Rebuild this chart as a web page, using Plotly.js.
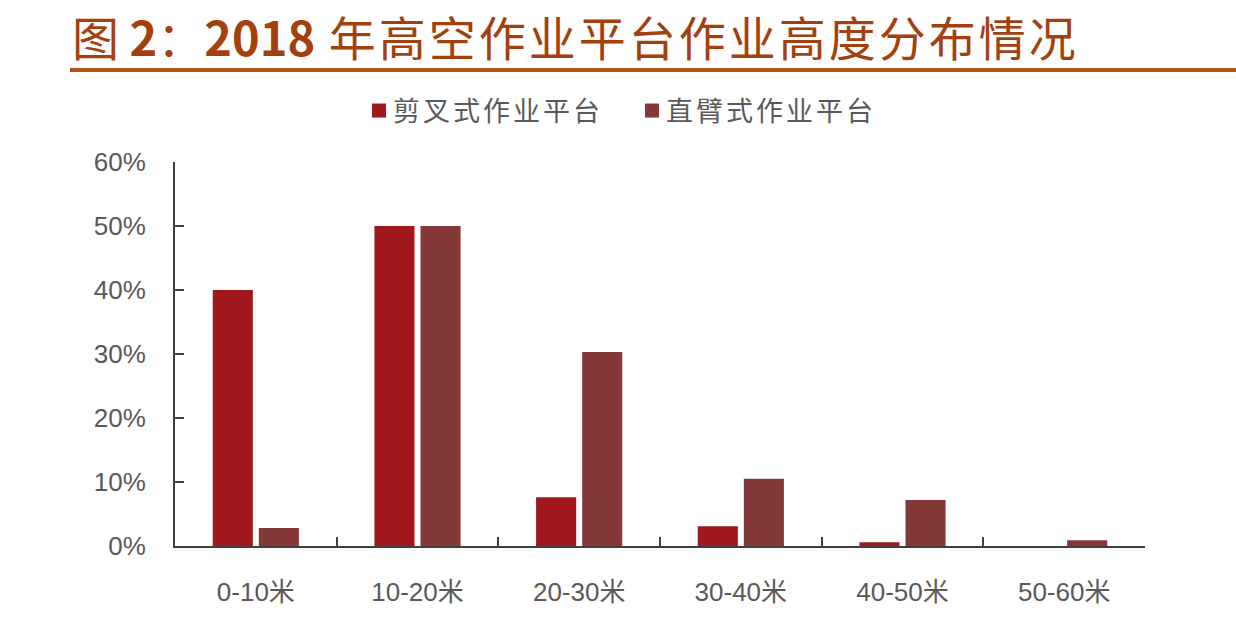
<!DOCTYPE html>
<html>
<head>
<meta charset="utf-8">
<script src="https://cdn.plot.ly/plotly-3.0.1.min.js"></script>
<style>
html,body{margin:0;padding:0;background:#fff;}
#chart{width:1236px;height:644px;}
#chart .legendtext{letter-spacing:3px;}
</style>
</head>
<body>
<div id="chart"></div>
<script>
const categories = ['0-10米', '10-20米', '20-30米', '30-40米', '40-50米', '50-60米'];
const seriesNames = ['剪叉式作业平台', '直臂式作业平台'];
const scissorValues = [0.40, 0.50, 0.076, 0.031, 0.006, 0];
const boomValues = [0.028, 0.50, 0.303, 0.105, 0.072, 0.009];
const yTickValues = [0, 0.1, 0.2, 0.3, 0.4, 0.5, 0.6];
const titleParts = ['图 ', '2', '：', '2018', ' 年高空作业平台作业高度分布情况'];

const baseFont = 'Liberation Sans, Arial, Noto Sans CJK SC, sans-serif';
const sp = function (s, ls) { return '<span style="letter-spacing:' + ls + 'px">' + s + '</span>'; };
const traces = [
  {type: 'bar', name: seriesNames[0], x: categories, y: scissorValues, marker: {color: '#A0181B'}},
  {type: 'bar', name: seriesNames[1], x: categories, y: boomValues, marker: {color: '#843838'}}
];
const layout = {
  width: 1236, height: 644,
  paper_bgcolor: '#fff', plot_bgcolor: '#fff',
  margin: {l: 175, r: 91, t: 162, b: 98},
  barmode: 'group', bargap: 0.43, bargroupgap: 0.13,
  font: {family: baseFont, color: '#595959', size: 26},
  title: {text: sp(titleParts[0], 0) + '<b>' + titleParts[1] + '</b>' + sp(titleParts[2], 0) + '<b>' + titleParts[3] + '</b>' + sp(titleParts[4], 3),
          xref: 'container', yref: 'container', x: 72/1236, xanchor: 'left', y: 1 - 40/644, yanchor: 'middle',
          font: {family: 'Noto Sans CJK SC, sans-serif', size: 47, color: '#A3410E'}},
  showlegend: true,
  legend: {orientation: 'h', xref: 'container', yref: 'container', x: 0.5, xanchor: 'center', y: 1 - 111/644, yanchor: 'middle',
           bgcolor: 'rgba(0,0,0,0)',
           font: {family: 'Noto Sans CJK SC, sans-serif', size: 27, color: '#595959'}, itemwidth: 30, traceorder: 'normal'},
  xaxis: {type: 'category', showline: true, linecolor: '#404040', linewidth: 2, ticks: 'inside', ticklen: 9, tickwidth: 2, tickcolor: '#404040',
          tickson: 'boundaries', showgrid: false, zeroline: false, ticklabelstandoff: 22, tickfont: {size: 26, color: '#595959'}},
  yaxis: {range: [0, 0.6], tickvals: yTickValues, tickformat: '.0%', showline: true, linecolor: '#404040', linewidth: 2, ticks: 'inside', ticklen: 9, tickwidth: 2, tickcolor: '#404040',
          showgrid: false, zeroline: false, ticklabelstandoff: 22, tickfont: {size: 26, color: '#595959'}},
  shapes: [{type: 'line', xref: 'paper', yref: 'paper', x0: (70-175)/970, x1: (1236-175)/970, y0: (546-70)/384, y1: (546-70)/384,
            line: {color: '#B0541C', width: 4}}]
};
const legendMarkerCenters = [379, 652];
Plotly.newPlot('chart', traces, layout, {displayModeBar: false, staticPlot: true}).then(function (gd) {
  // match the reference legend spacing: label close to its swatch, wider gap between items
  gd.querySelectorAll('.legend [clip-path]').forEach(function (e) { e.removeAttribute('clip-path'); });
  gd.querySelectorAll('.legendtext').forEach(function (t) { t.setAttribute('x', 34); });
  gd.querySelectorAll('.legend .legendpoints path').forEach(function (p) {
    p.setAttribute('transform', ((p.getAttribute('transform') || '') + ' scale(1.17)').trim());
  });
  const items = gd.querySelectorAll('.legend .traces');
  items.forEach(function (g, i) {
    const pt = g.querySelector('.legendpoints path');
    if (!pt || legendMarkerCenters[i] === undefined) return;
    const r = pt.getBoundingClientRect();
    const dx = legendMarkerCenters[i] - (r.left + r.width / 2);
    const m = /translate\(([-\d.]+)[ ,]+([-\d.]+)\)/.exec(g.getAttribute('transform') || 'translate(0,0)');
    const x = parseFloat(m[1]) + dx, y = parseFloat(m[2]);
    g.setAttribute('transform', 'translate(' + x + ',' + y + ')');
  });
});
</script>
</body>
</html>
